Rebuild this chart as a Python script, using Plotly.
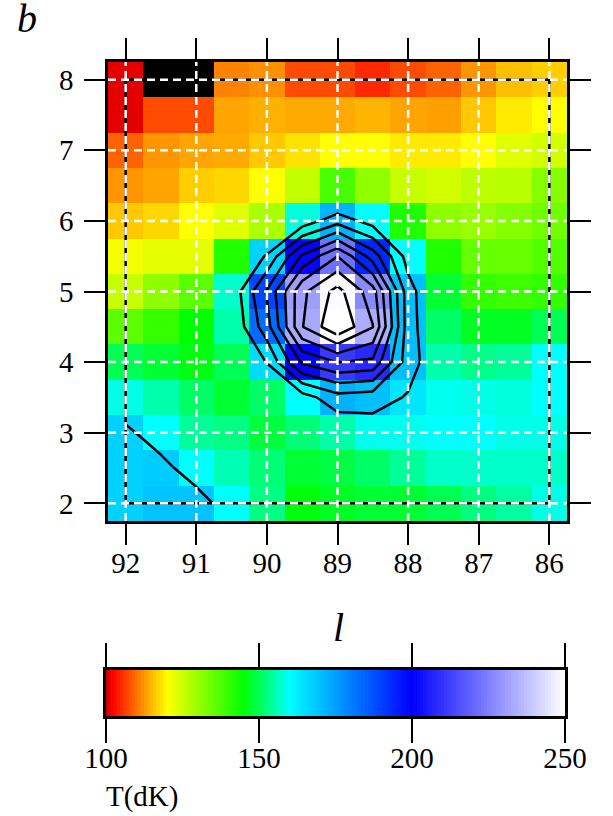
import plotly.graph_objects as go

LON = [92, 91.5, 91, 90.5, 90, 89.5, 89, 88.5, 88, 87.5, 87, 86.5, 86]
LAT = [8, 7.5, 7, 6.5, 6, 5.5, 5, 4.5, 4, 3.5, 3, 2.5, 2]
NA = None
T_8_0 = [101, NA, NA, 111.2, 112.2, 107.3, 107.3, 104.8, 107.3, 109, 112.6, 115.4, 116.5]
T_7_5 = [101, 107.3, 107.3, 113.6, 114.4, 114, 114, 114.7, 113.6, 113.3, 116.1, 118.6, 120]
T_7_0 = [109, 112.6, 113.6, 114, 116.1, 118, 120, 120, 118.6, 118.6, 120, 123, 124.5]
T_6_5 = [112.6, 113.6, 116.5, 117.2, 120, 126, 138, 131, 125.5, 124.5, 126.4, 127, 132]
T_6_0 = [116.1, 117.2, 120, 123, 128.3, 158, 172, 160, 142, 131, 130, 132, 134]
T_5_5 = [121, 122.5, 122.5, 142, 167, 201, 222, 194, 160, 142, 135, 135, 137]
T_5_0 = [125.5, 131, 136, 157, 189, 231, 249, 227, 170, 148, 140, 139, 140]
T_4_5 = [136, 140, 145, 155, 183, 233, 255, 234, 170, 151, 147, 147, 150]
T_4_0 = [150, 148, 146, 150, 165.5, 201, 211, 208, 170, 155, 153, 154, 160]
T_3_5 = [158.5, 155, 151, 148, 151, 160, 172, 170, 164, 159, 158.5, 158, 160]
T_3_0 = [167, 160, 154, 152.7, 148.5, 152, 155, 159, 159, 160, 160, 158.5, 158.5]
T_2_5 = [167, 168, 160, 155.6, 152, 148, 149, 151, 154, 156.8, 156.8, 156.8, 156.8]
T_2_0 = [167, 169.4, 169.4, 160, 152.7, 145.6, 147, 148, 148, 149.7, 152.6, 154.4, 158.5]
TEMPERATURE = [T_8_0, T_7_5, T_7_0, T_6_5, T_6_0, T_5_5, T_5_0, T_4_5, T_4_0, T_3_5, T_3_0, T_2_5, T_2_0]

X_TICKS = [92, 91, 90, 89, 88, 87, 86]
Y_TICKS = [2, 3, 4, 5, 6, 7, 8]
CBAR_TICKS = [100, 150, 200, 250]
CBAR_LEVELS = list(range(100, 251))
CONTOUR_FIRST, CONTOUR_LAST, CONTOUR_COUNT = 165, 245, 8
BOX_X = [92, 86, 86, 92, 92]
BOX_Y = [8, 8, 2, 2, 8]

W, H = 613, 816
def px_x(a): return a / W
def px_y(a): return 1 - a / H

ZMIN, ZMAX = 100, 250
def stop(v): return (v - ZMIN) / (ZMAX - ZMIN)
SCALE = [[stop(100), "rgb(200,0,0)"], [stop(102), "rgb(255,0,0)"], [stop(120), "rgb(255,255,0)"],
         [stop(145), "rgb(0,255,0)"], [stop(160), "rgb(0,255,255)"], [stop(200), "rgb(0,0,255)"],
         [stop(250), "rgb(255,255,255)"]]

FONT = "Liberation Serif"
DASH = "8px,5px"
fig = go.Figure()
fig.add_trace(go.Heatmap(x=LON, y=LAT, z=TEMPERATURE, colorscale=SCALE, zmin=ZMIN, zmax=ZMAX,
                         showscale=False, hoverongaps=False, xaxis="x", yaxis="y"))
fig.add_trace(go.Contour(x=LON, y=LAT, z=TEMPERATURE, showscale=False, xaxis="x", yaxis="y",
                         contours=dict(coloring="none", start=CONTOUR_FIRST, end=CONTOUR_LAST,
                                       size=(CONTOUR_LAST - CONTOUR_FIRST) / (CONTOUR_COUNT - 1)),
                         line=dict(color="black", width=2.5, smoothing=0)))
fig.add_trace(go.Scatter(x=BOX_X, y=BOX_Y, mode="lines", line=dict(color="black", width=2.5),
                         showlegend=False, hoverinfo="skip", xaxis="x", yaxis="y"))
for t in X_TICKS:
    fig.add_shape(type="line", xref="x", yref="y domain", x0=t, x1=t, y0=0, y1=1,
                  line=dict(color="white", width=2.5, dash=DASH), layer="above")
for t in Y_TICKS:
    fig.add_shape(type="line", xref="x domain", yref="y", x0=0, x1=1, y0=t, y1=t,
                  line=dict(color="white", width=2.5, dash=DASH), layer="above")
fig.add_trace(go.Heatmap(x=CBAR_LEVELS, y=[0], z=[CBAR_LEVELS], colorscale=SCALE, zmin=ZMIN, zmax=ZMAX,
                         showscale=False, xaxis="x2", yaxis="y2", hoverinfo="skip"))

axis_common = dict(showgrid=False, zeroline=False, showline=True, linecolor="black", linewidth=2.5,
                   mirror="allticks", ticks="outside", ticklen=21, tickwidth=2.2, tickcolor="black",
                   automargin=False, tickfont=dict(family=FONT, size=29, color="black"))
fig.update_layout(
    template="none",
    width=W, height=H, autosize=False, margin=dict(l=0, r=0, t=0, b=0, pad=0),
    paper_bgcolor="white", plot_bgcolor="black", showlegend=False,
    xaxis=dict(domain=[px_x(108), px_x(567)], range=[92.25, 85.75], tickvals=X_TICKS, anchor="y",
               ticklabelstandoff=-7, **axis_common),
    yaxis=dict(domain=[px_y(521), px_y(62)], range=[1.75, 8.25], tickvals=Y_TICKS, anchor="x",
               ticklabelstandoff=5, **axis_common),
    xaxis2=dict(domain=[px_x(106), px_x(565)], range=[100, 250], tickvals=CBAR_TICKS, anchor="y2",
                ticklabelstandoff=-10, **{**axis_common, "ticklen": 24}),
    yaxis2=dict(domain=[px_y(716), px_y(670)], range=[-0.5, 0.5], anchor="x2", showticklabels=False, ticks="",
                automargin=False, showline=True, linecolor="black", linewidth=2.5, mirror=True,
                showgrid=False, zeroline=False),
    annotations=[
        dict(text="<i>b</i>", xref="paper", yref="paper", x=px_x(27), y=px_y(18), showarrow=False, height=32,
             xanchor="center", yanchor="middle", font=dict(family=FONT, size=40, color="black")),
        dict(text="<i>l</i>", xref="paper", yref="paper", x=px_x(338), y=px_y(627), showarrow=False,
             xanchor="center", yanchor="middle", font=dict(family=FONT, size=40, color="black")),
        dict(text="T(dK)", xref="paper", yref="paper", x=px_x(142), y=px_y(796), showarrow=False,
             xanchor="center", yanchor="middle", font=dict(family=FONT, size=29, color="black")),
    ],
)
fig.write_html("out.html", post_script="document.body.style.margin='0';", config={"displayModeBar": False})
